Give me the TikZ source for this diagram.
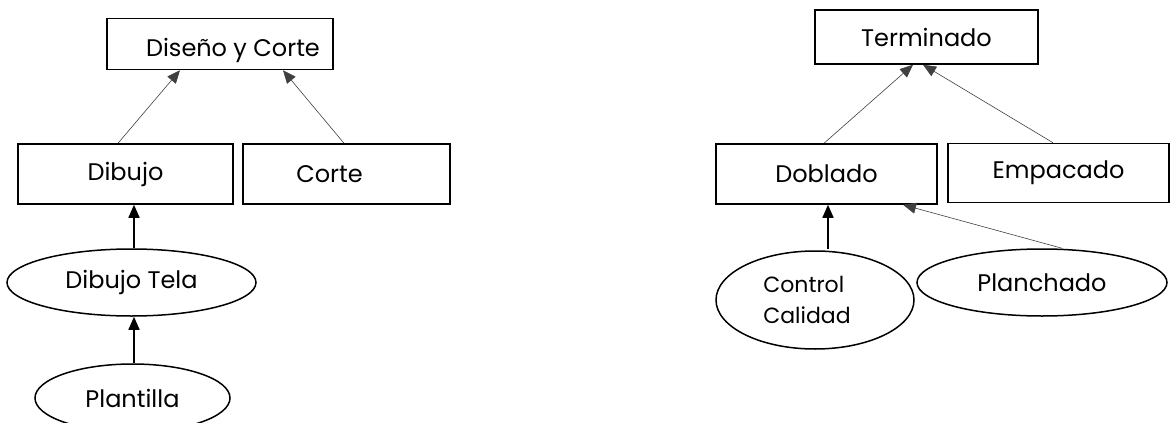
\documentclass[tikz,border=0pt]{standalone}
\usepackage{fontspec}
\setmainfont{Poppins}
\usetikzlibrary{arrows.meta,shapes.geometric}
\tikzset{
  box/.style={draw, line width=1.5pt, minimum height=60pt, inner sep=0pt, font=\fontsize{24}{28}\selectfont},
  oval/.style={draw, ellipse, line width=1.5pt, inner sep=0pt, font=\fontsize{24}{28}\selectfont},
  thinarrow/.style={draw=black!75, line width=0.6pt, -{Triangle[length=13pt,width=11pt]}},
  thickarrow/.style={draw, line width=1.5pt, -{Triangle[length=13pt,width=11pt]}},
}
\begin{document}
\begin{tikzpicture}[x=1pt,y=-1pt]
\useasboundingbox (0,0) rectangle (1171,423);
\begin{scope}
\clip (0,0) rectangle (1171,423);
% left tree
\node[box, minimum width=226pt, minimum height=51pt] (dyc) at (220,44) {\hspace*{26pt}\raisebox{-6pt}[\height][\depth]{Diseño y Corte}};
\node[box, minimum width=215pt] (dib) at (125.5,174) {Dibujo};
\node[box, minimum width=207pt] (cor) at (346.5,174) {Corte\hspace*{34pt}};
\node[oval, minimum width=249pt, minimum height=67pt] (dtela) at (131.5,282.5) {Dibujo Tela};
\node[oval, minimum width=195pt, minimum height=68pt] (plan) at (132.5,398) {Plantilla};
% right tree
\node[box, minimum width=223pt, minimum height=54pt] (term) at (926.5,37) {Terminado};
\node[box, minimum width=221pt] (dob) at (826.5,174) {Doblado};
\node[box, minimum width=221pt, minimum height=59pt] (emp) at (1058.5,173) {Empacado};
\node[oval, minimum width=198pt, minimum height=98pt, align=left, font=\fontsize{22}{31}\selectfont] (cc) at (815,300) {\hspace*{-16pt}Control\\\hspace*{-16pt}Calidad};
\node[oval, minimum width=250pt, minimum height=67pt] (pla) at (1042,282.5) {Planchado};
\end{scope}
% connectors
\draw[thinarrow] ([xshift=-7.5pt]dib.north) -- ([xshift=-40pt]dyc.south);
\draw[thinarrow] ([xshift=-2.5pt]cor.north) -- ([xshift=63pt]dyc.south);
\draw[thickarrow] ([xshift=2.5pt]dtela.north) -- ([xshift=8.5pt]dib.south);
\draw[thickarrow] ([xshift=1.5pt]plan.north) -- ([xshift=2.5pt]dtela.south);
\draw[thinarrow] ([xshift=-2.5pt]dob.north) -- ([xshift=-13.5pt]term.south);
\draw[thinarrow] ([xshift=-5.5pt]emp.north) -- ([xshift=-3.5pt]term.south);
\draw[thickarrow] ([xshift=13pt,yshift=1pt]cc.north) -- ([xshift=1.5pt]dob.south);
\draw[thinarrow] ([xshift=20pt]pla.north) -- ([xshift=76.5pt]dob.south);
\end{tikzpicture}
\end{document}
